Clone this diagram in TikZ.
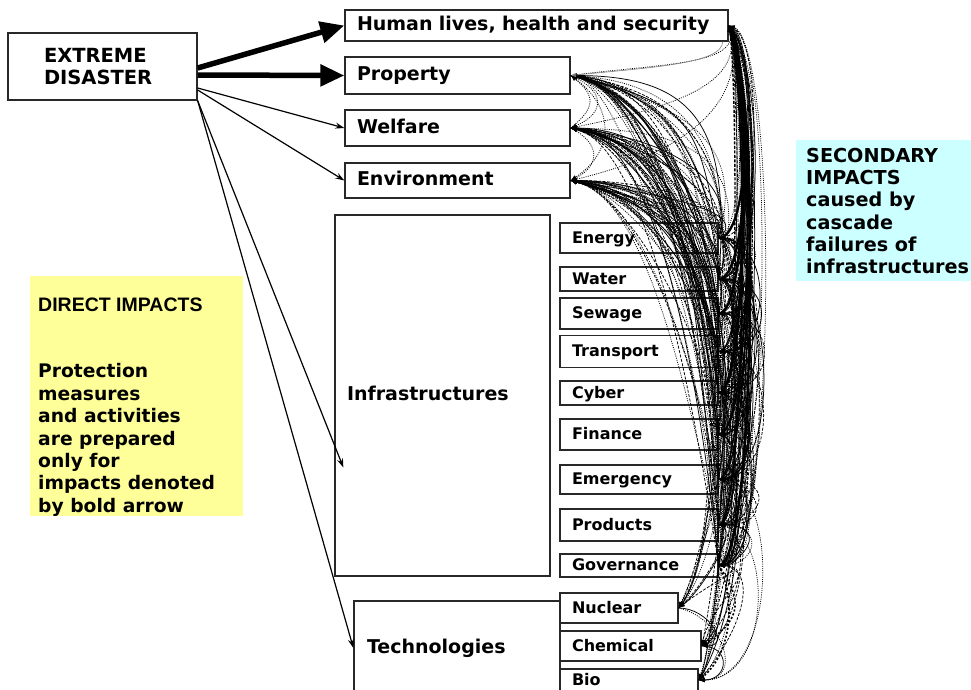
\documentclass[tikz,border=0pt]{standalone}
\usepackage{fontspec}
\setmainfont{DejaVu Sans}
\newfontfamily\libsans{Liberation Sans}
\usetikzlibrary{arrows.meta,calc}
\definecolor{notey}{RGB}{255,255,153}
\definecolor{notec}{RGB}{204,255,255}
\definecolor{boxline}{RGB}{40,40,40}
\newcommand{\fntbig}{\fontsize{19}{22}\selectfont\bfseries}
\newcommand{\fntsub}{\fontsize{16}{19}\selectfont\bfseries}
\newcommand{\fntdis}{\fontsize{19.5}{21.5}\selectfont\bfseries}
\newcommand{\fntnote}{\fontsize{18.7}{22.4}\selectfont\bfseries}
\newcommand{\fntsec}{\fontsize{19.2}{22.2}\selectfont\bfseries}

\tikzset{
  lbl/.style={draw=boxline, line width=1.3pt, fill=white, inner xsep=12pt, inner ysep=0pt,
    align=left, font=\fntbig, text height=14pt, text depth=4pt},
  sub/.style={lbl, font=\fntsub, text height=12pt, text depth=2pt},
  disbox/.style={draw=boxline, line width=1.3pt, fill=white, align=left, font=\fntdis,
    inner xsep=36pt, inner ysep=0pt, text width=117pt, minimum height=67pt},
  note/.style={inner sep=0pt, anchor=north west},
  notetext/.style={inner sep=0pt, anchor=north west, align=left},
  cas0/.style={line width=0.75pt, -{Latex[length=6pt,width=4.5pt]}},
  cas1/.style={cas0, dash pattern=on 3pt off 1.5pt},
  cas2/.style={cas0, dash pattern=on 1pt off 1.2pt},
  bold arrow/.style={line width=5.5pt, -{Triangle[length=24pt,width=21pt]}},
  thin arrow/.style={line width=1.2pt, -{Stealth[length=9pt,width=6pt]}},
}

\begin{document}
\begin{tikzpicture}[x=1pt,y=-1pt]
\useasboundingbox (0,0) rectangle (971,689);

% explanatory notes
\node[note, fill=notey, minimum width=213pt, minimum height=240pt] (direct) at (30,276) {};
\node[notetext, font=\fntnote] (directtext) at (38,298)
  {{\libsans\fontsize{19.5}{22.4}\selectfont DIRECT IMPACTS}\\[43.6pt]
   Protection\\measures\\and activities\\are prepared\\only for\\impacts denoted\\by bold arrow};
\node[note, fill=notec, minimum width=175pt, minimum height=141pt] (secondary) at (796,140) {};
\node[notetext, font=\fntsec] (secondarytext) at (806,148)
  {SECONDARY\\IMPACTS\\caused by\\cascade\\failures of\\infrastructures};

% disaster and impact categories
\node[disbox] (dis) at (102.5,66.5) {EXTREME\\DISASTER};
\node[lbl, text width=359pt, minimum height=31pt] (human) at (536.5,25.5) {Human lives, health and security};
\node[lbl, text width=201pt, minimum height=37pt] (prop) at (457.5,75.5) {Property};
\node[lbl, text width=201pt, minimum height=36pt] (welf) at (457.5,128) {Welfare};
\node[lbl, text width=201pt, minimum height=35pt] (env) at (457.5,180.5) {Environment};
\node[lbl, text width=191pt, minimum height=361pt] (infra) at (442.5,395.5) {Infrastructures};
\node[lbl, inner xsep=13pt, text width=180pt, minimum height=94pt] (tech) at (457,648) {Technologies};

% infrastructure sectors
\node[sub, text width=134pt, minimum height=30pt] (ener) at (639,238) {Energy};
\node[sub, text width=134pt, minimum height=24pt] (wat) at (639,279) {Water};
\node[sub, text width=134pt, minimum height=31pt] (sew) at (639,313.5) {Sewage};
\node[sub, text width=134pt, minimum height=32pt] (trans) at (639,351.5) {Transport};
\node[sub, text width=134pt, minimum height=24pt] (cyb) at (639,393) {Cyber};
\node[sub, text width=134pt, minimum height=31pt] (fin) at (639,434.5) {Finance};
\node[sub, text width=134pt, minimum height=29pt] (emer) at (639,479.5) {Emergency};
\node[sub, text width=134pt, minimum height=32pt] (prod) at (639,525) {Products};
\node[sub, text width=134pt, minimum height=23pt] (gov) at (639,565.5) {Governance};

% technology sectors
\node[sub, text width=94pt, minimum height=30pt] (nuc) at (619,608) {Nuclear};
\node[sub, text width=117pt, minimum height=30pt] (chem) at (630.5,646) {Chemical};
\node[sub, text width=114pt, minimum height=22pt] (bio) at (629,680) {Bio};

% direct impacts
\draw[bold arrow] ([yshift=-1.5pt]dis.east) -- (human.west);
\draw[bold arrow] ([yshift=-8.5pt]dis.east) -- (prop.west);
\draw[thin arrow] ([yshift=-21.5pt]dis.east) -- (welf.west);
\draw[thin arrow] ([yshift=-23.5pt]dis.east) -- (env.west);
\draw[thin arrow] (dis.south east) -- ($(infra.west)+(9,72)$);
\draw[thin arrow] (dis.south east) -- (tech.west);

% cascade failures
\pgfmathsetseed{4}
% sectors -> property, welfare, environment
\foreach \s/\sy in {ener/238,wat/279,sew/313.5,trans/351.5,cyb/393,fin/434.5,emer/479.5,prod/525,gov/565.5}{
  \foreach \t/\ty in {prop/75.5,welf/128,env/180.5}{
    \foreach \k in {0,1,2,2}{
      \pgfmathsetmacro{\a}{50+90*rnd}
      \pgfmathsetmacro{\ay}{0.3*rnd*\a}
      \pgfmathsetmacro{\b}{-35+70*rnd}
      \pgfmathsetmacro{\c}{(0.3+0.5*rnd)*(\sy-\ty)}
      \draw[cas\k] (\s.east) .. controls +(\b,-\c) and +(\a,\ay) .. (\t.east);
    }
  }
}
% sectors -> human lives
\foreach \s in {ener,wat,sew,trans,cyb,fin,emer,prod,gov}{
  \foreach \k in {0,1,2,0}{
    \pgfmathsetmacro{\d}{20+35*rnd}
    \pgfmathsetmacro{\e}{10+35*rnd}
    \pgfmathsetmacro{\f}{20+60*rnd}
    \draw[cas\k] (\s.east) .. controls +(\d,0) and +(\e,\f) .. (human.east);
  }
  \pgfmathsetmacro{\w}{1.2+1.4*rnd}
  \pgfmathsetmacro{\d}{26+16*rnd}
  \draw[cas0, line width=\w pt] (\s.east) .. controls +(\d,0) and +(\d-6,70) .. (human.east);
}
\draw[cas1, line width=1.4pt] (fin.east) .. controls +(20,0) and +(9,50) .. (human.east);
\draw[cas2] (prod.east) .. controls +(55,0) and +(45,15) .. (human.east);
\draw[cas2] (gov.east) .. controls +(60,0) and +(50,20) .. (human.east);
\draw[cas2] (prop.east) .. controls +(90,-12) and +(10,40) .. (human.east);
\draw[cas2] (welf.east) .. controls +(100,-20) and +(15,60) .. (human.east);
\draw[cas2] (env.east) .. controls +(110,-25) and +(20,80) .. (human.east);
\draw[line width=0.6pt, gray, -{Latex[length=5pt,width=4pt]}] ([xshift=-6pt]human.south east) .. controls +(0,22) and +(80,-8) .. (prop.east);
% links between property, welfare and environment
\draw[cas2] (prop.east) .. controls +(35,15) and +(35,-15) .. (welf.east);
\draw[cas2] (welf.east) .. controls +(30,15) and +(30,-15) .. (env.east);
\draw[cas2] (prop.east) .. controls +(45,30) and +(45,-30) .. (env.east);
\draw[cas2] (welf.east) .. controls +(25,-20) and +(25,20) .. (prop.east);
% sectors -> sectors
\foreach \s [count=\i] in {ener,wat,sew,trans,cyb,fin,emer,prod,gov}{
  \foreach \u [count=\j] in {ener,wat,sew,trans,cyb,fin,emer,prod,gov}{
    \ifnum\i=\j\else
      \pgfmathsetmacro{\d}{15+50*rnd}
      \pgfmathsetmacro{\e}{15+50*rnd}
      \pgfmathtruncatemacro{\k}{3*rnd}
      \draw[cas\k] (\s.east) .. controls +(\d,0) and +(\e,0) .. (\u.east);
    \fi
  }
}
% sectors -> technologies
\foreach \s in {ener,wat,sew,trans,cyb,fin,emer,prod,gov}{
  \foreach \t in {nuc,chem,bio}{
    \pgfmathsetmacro{\d}{15+35*rnd}
    \pgfmathsetmacro{\e}{10+40*rnd}
    \pgfmathsetmacro{\f}{10+50*rnd}
    \pgfmathtruncatemacro{\k}{3*rnd}
    \draw[cas\k] (\s.east) .. controls +(\d,0) and +(\e,-\f) .. (\t.east);
  }
}
\draw[cas1] (trans.east) .. controls +(-12,120) and +(30,-40) .. (nuc.east);
\draw[cas1] (sew.east) .. controls +(-8,150) and +(34,-50) .. (nuc.east);
\draw[cas2] (emer.east) .. controls +(62,0) and +(80,0) .. (bio.east);
\draw[cas2] (prod.east) .. controls +(55,0) and +(75,0) .. (bio.east);
\draw[line width=1.6pt, dash pattern=on 2pt off 2pt] (gov.east) .. controls +(20,40) and +(30,-20) .. (bio.east);
\draw[line width=1.6pt, dash pattern=on 2pt off 2pt] (gov.east) .. controls +(28,40) and +(36,-24) .. (chem.east);
\draw[cas0] (nuc.east) .. controls +(30,0) and +(30,0) .. (chem.east);
\draw[cas0] (chem.east) .. controls +(30,0) and +(30,0) .. (bio.east);
\draw[cas2] (nuc.east) .. controls +(45,10) and +(45,0) .. (bio.east);
\end{tikzpicture}
\end{document}
